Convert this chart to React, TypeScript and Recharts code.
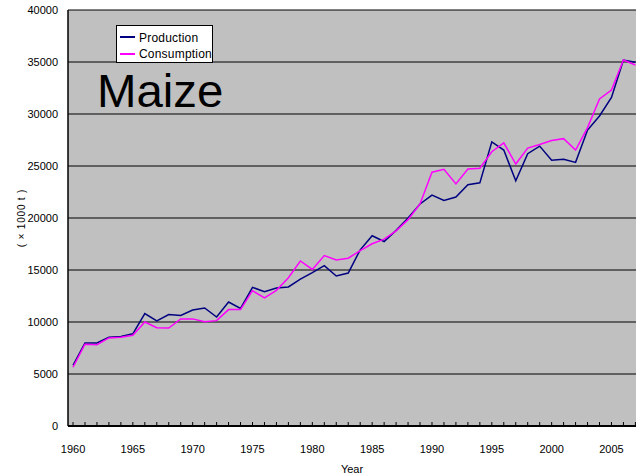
import { LineChart, Line, XAxis, YAxis, CartesianGrid, Legend } from "recharts";

const years = [
  1960, 1961, 1962, 1963, 1964, 1965, 1966, 1967, 1968, 1969,
  1970, 1971, 1972, 1973, 1974, 1975, 1976, 1977, 1978, 1979,
  1980, 1981, 1982, 1983, 1984, 1985, 1986, 1987, 1988, 1989,
  1990, 1991, 1992, 1993, 1994, 1995, 1996, 1997, 1998, 1999,
  2000, 2001, 2002, 2003, 2004, 2005, 2006, 2007,
];

const production = [
  5840, 7990, 7990, 8540, 8600, 8860, 10810, 10100, 10710, 10620,
  11150, 11350, 10480, 11920, 11310, 13330, 12920, 13270, 13370, 14130,
  14750, 15420, 14420, 14710, 16940, 18290, 17740, 18810, 20000, 21350,
  22200, 21690, 22010, 23190, 23380, 27320, 26530, 23570, 26180, 26910,
  25550, 25640, 25350, 28460, 29810, 31600, 35190, 34970,
];

const consumption = [
  5650, 7860, 7820, 8470, 8540, 8730, 10000, 9450, 9420, 10290,
  10300, 10030, 10130, 11190, 11190, 13010, 12310, 13040, 14260, 15870,
  15050, 16390, 15970, 16130, 16870, 17520, 17970, 18770, 19840, 21350,
  24400, 24680, 23280, 24710, 24780, 26370, 27230, 25190, 26720, 27070,
  27460, 27630, 26540, 28690, 31440, 32310, 35190, 34710,
];

const yTicks = [0, 5000, 10000, 15000, 20000, 25000, 30000, 35000, 40000];

const data = years.map((year, i) => ({
  year,
  Production: production[i],
  Consumption: consumption[i],
}));

const font = "'Liberation Sans', Arial, sans-serif";

// legend box drawn like the excel one, sitting on the 35000 gridline
const LegendBox = () => (
  <div
    style={{
      position: "relative",
      width: 95,
      height: 36,
      background: "#fff",
      border: "1px solid #000",
      overflow: "hidden",
      fontFamily: font,
      fontSize: 12,
      letterSpacing: 0.2,
      color: "#000",
    }}
  >
    <div style={{ position: "absolute", left: 3, top: 10, width: 15, height: 1.5, background: "#000080" }} />
    <span style={{ position: "absolute", left: 22, top: 6, lineHeight: "12px", whiteSpace: "nowrap" }}>Production</span>
    <div style={{ position: "absolute", left: 3, top: 27, width: 15, height: 1.5, background: "#ff00ff" }} />
    <span style={{ position: "absolute", left: 22, top: 22, lineHeight: "12px", whiteSpace: "nowrap" }}>Consumption</span>
  </div>
);

export default function App() {
  return (
    <div style={{ position: "absolute", left: 0, top: 0, width: 636, height: 476, background: "#fff" }}>
      <LineChart
        width={636}
        height={476}
        data={data}
        margin={{ top: 10, right: 0, left: 0, bottom: 0 }}
      >
        <CartesianGrid
          vertical={false}
          stroke="#000"
          strokeWidth={1}
          fill="#C0C0C0"
          fillOpacity={1}
        />
        <XAxis
          dataKey="year"
          type="number"
          domain={[1959.58, 2007.05]}
          allowDataOverflow
          ticks={years}
          interval={0}
          tickFormatter={(v: number) => (v % 5 === 0 ? String(v) : "")}
          tickSize={-4}
          tickMargin={23}
          height={50}
          axisLine={{ stroke: "#000", strokeWidth: 2 }}
          tickLine={{ stroke: "#000" }}
          tick={{ fontFamily: font, fontSize: 11, fill: "#000" }}
          label={{
            value: "Year",
            position: "insideBottom",
            offset: 3,
            style: { fontFamily: font, fontSize: 11, fill: "#000" },
          }}
        />
        <YAxis
          domain={[0, 40000]}
          ticks={yTicks}
          interval={0}
          width={68}
          tickLine={false}
          tickSize={0}
          tickMargin={10}
          axisLine={{ stroke: "#000", strokeWidth: 1.5 }}
          tick={{ fontFamily: font, fontSize: 11, fill: "#000" }}
          label={{
            value: "( × 1000 t )",
            angle: -90,
            position: "insideLeft",
            offset: 21,
            style: { fontFamily: font, fontSize: 10, fill: "#000", textAnchor: "middle", letterSpacing: 0.8 },
          }}
        />
        <Legend
          layout="horizontal"
          verticalAlign="middle"
          align="center"
          content={() => <LegendBox />}
          wrapperStyle={{ left: 116, top: 25, width: 97, height: 38 }}
        />
        <Line
          type="linear"
          dataKey="Production"
          stroke="#000080"
          strokeWidth={1.5}
          dot={false}
          isAnimationActive={false}
        />
        <Line
          type="linear"
          dataKey="Consumption"
          stroke="#ff00ff"
          strokeWidth={1.5}
          dot={false}
          isAnimationActive={false}
        />
      </LineChart>
      <div
        style={{
          position: "absolute",
          left: 97,
          top: 68,
          fontFamily: font,
          fontSize: 46,
          lineHeight: "46px",
          color: "#000",
          transform: "scaleX(1.03)",
          transformOrigin: "left",
          pointerEvents: "none",
        }}
      >
        Maize
      </div>
    </div>
  );
}
